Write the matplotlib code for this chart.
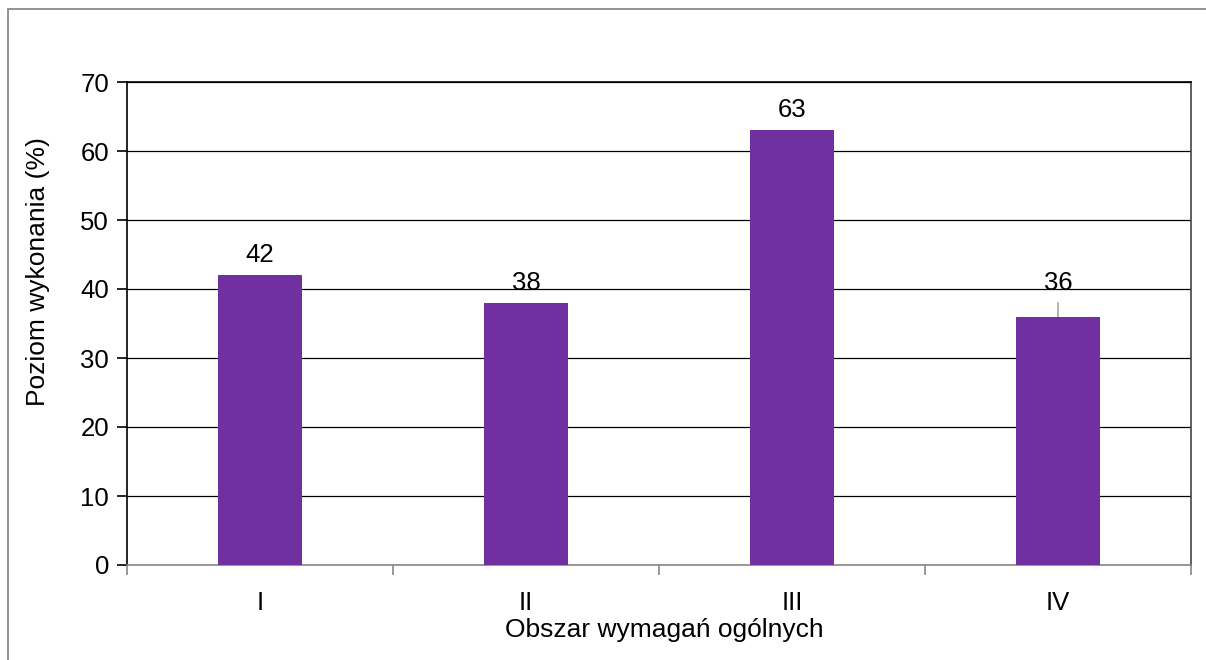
import matplotlib

matplotlib.use("Agg")
import matplotlib.pyplot as plt
from matplotlib.patches import Rectangle

plt.rcParams["font.family"] = ["Liberation Sans", "DejaVu Sans"]

categories = ["I", "II", "III", "IV"]
values = [42, 38, 63, 36]
label_offsets = [0, 0, 0, 2.0]  # extra lift for the IV label (uses a leader line)

BAR = "#7030A0"
FS = 18.5

fig = plt.figure(figsize=(12.06, 6.6), dpi=100)
ax = fig.add_axes([127 / 1206, 1 - 565 / 660, (1191 - 127) / 1206, (565 - 82) / 660])

x = range(len(categories))
ax.bar(x, values, width=0.316, color=BAR, zorder=3)
ax.set_xlim(-0.5, len(categories) - 0.5)
ax.set_ylim(0, 70)
ax.set_yticks(range(0, 71, 10))
ax.yaxis.grid(True, color="black", linewidth=0.9, zorder=0)

ax.set_xticks(x)
ax.set_xticklabels(categories)
ax.set_xticks([i - 0.5 for i in range(len(categories) + 1)], minor=True)
ax.tick_params(axis="x", which="major", length=0, pad=19, labelsize=FS)
ax.tick_params(axis="x", which="minor", length=7, color="#888888", width=1.2)
ax.tick_params(axis="y", length=7, width=1.2, color="black", pad=6, labelsize=FS)

for side, col in [("left", "black"), ("top", "black"), ("right", "#444444"), ("bottom", "#888888")]:
    ax.spines[side].set_color(col)
    ax.spines[side].set_linewidth(1.2)

for i, (v, off) in enumerate(zip(values, label_offsets)):
    ax.text(i, v + 1.2 + off, str(v), ha="center", va="bottom", fontsize=FS, zorder=4)
    if off:
        ax.plot([i, i], [v, v + off], color="#a6a6a6", linewidth=1.2, zorder=2)

# axis titles placed where the original chart has them
fig.text(38 / 1206, 1 - 272 / 660, "Poziom wykonania (%)", rotation=90,
         ha="center", va="center", fontsize=19)
fig.text(664 / 1206, 1 - 630 / 660, "Obszar wymagań ogólnych",
         ha="center", va="center", fontsize=19)

# outer chart frame
fig.patches.append(Rectangle((8 / 1206, -0.05), 1.1, 1 - 9 / 660 + 0.05, transform=fig.transFigure,
                             fill=False, edgecolor="#808080", linewidth=1.2))

fig.savefig("out.png", dpi=100)
